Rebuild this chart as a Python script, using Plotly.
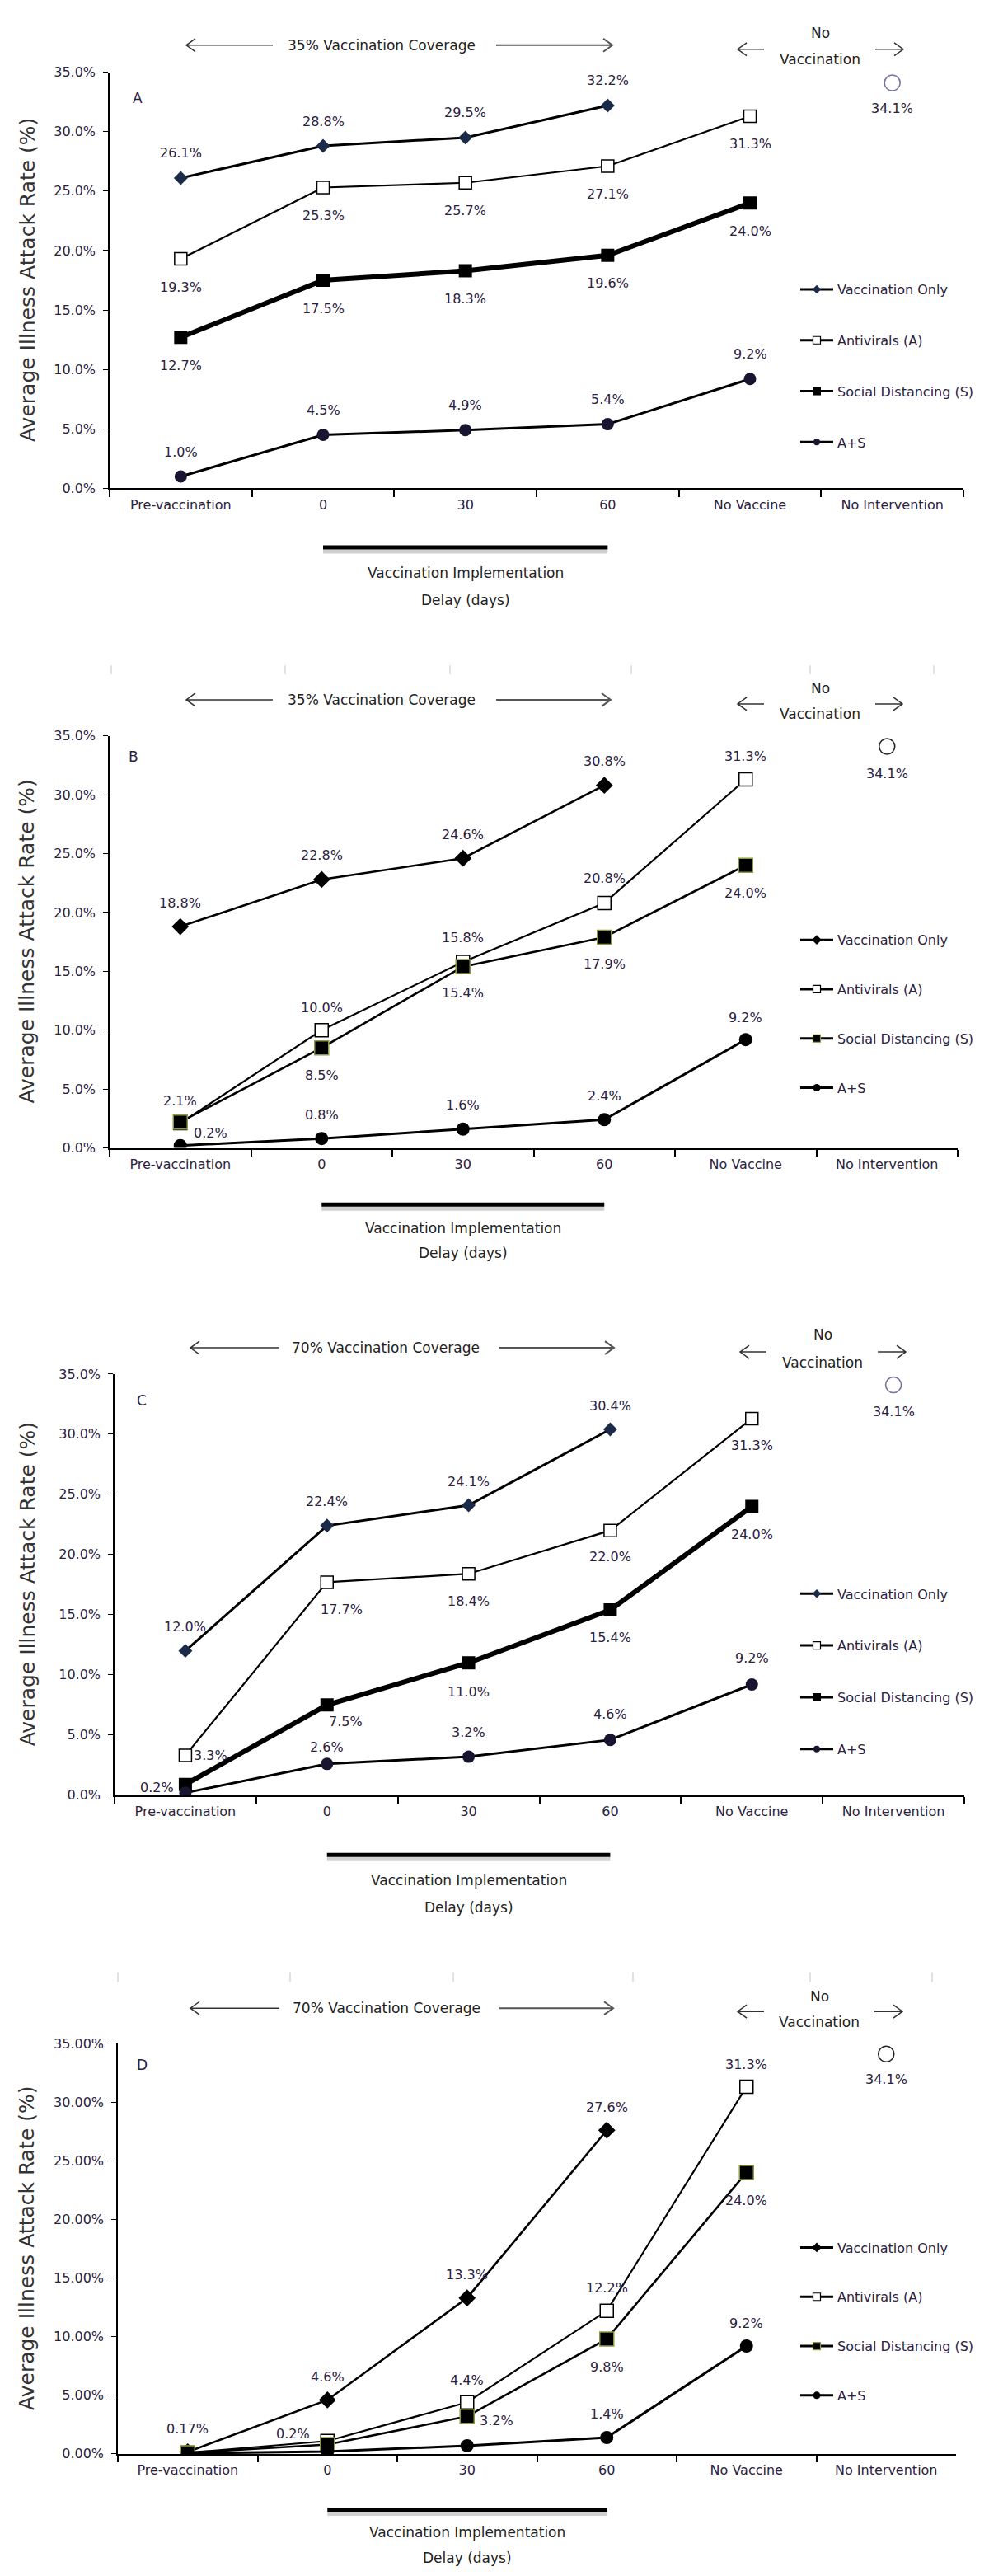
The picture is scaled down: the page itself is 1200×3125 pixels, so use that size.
import plotly.graph_objects as go

# ---------------- data ----------------
categories = ["Pre-vaccination", "0", "30", "60", "No Vaccine", "No Intervention"]
series_names = ["Vaccination Only", "Antivirals (A)", "Social Distancing (S)", "A+S"]

no_intervention = 34.1

A_vacc = [26.1, 28.8, 29.5, 32.2]
A_anti = [19.3, 25.3, 25.7, 27.1, 31.3]
A_sd = [12.7, 17.5, 18.3, 19.6, 24.0]
A_as = [1.0, 4.5, 4.9, 5.4, 9.2]

B_vacc = [18.8, 22.8, 24.6, 30.8]
B_anti = [2.1, 10.0, 15.8, 20.8, 31.3]
B_sd = [2.2, 8.5, 15.4, 17.9, 24.0]
B_as = [0.2, 0.8, 1.6, 2.4, 9.2]

C_vacc = [12.0, 22.4, 24.1, 30.4]
C_anti = [3.3, 17.7, 18.4, 22.0, 31.3]
C_sd = [0.9, 7.5, 11.0, 15.4, 24.0]
C_as = [0.2, 2.6, 3.2, 4.6, 9.2]

D_vacc = [0.17, 4.6, 13.3, 27.6]
D_anti = [0.1, 1.1, 4.4, 12.2, 31.3]
D_sd = [0.1, 0.8, 3.2, 9.8, 24.0]
D_as = [0.05, 0.2, 0.7, 1.4, 9.2]

coverage_text = ["35% Vaccination Coverage", "35% Vaccination Coverage",
                 "70% Vaccination Coverage", "70% Vaccination Coverage"]
panel_letters = ["A", "B", "C", "D"]

# ---------------- styles / layout ----------------
W, H = 1200, 3125
FONT = "DejaVu Sans, Verdana, sans-serif"
TXT = "#2b2140"


def X(px):
    return px / W


def Y(py):
    return 1 - py / H


# label placement (xshift, yshift) per point; None = hidden
LBL = {
    "A": {"vacc": [(0, 30)] * 4, "anti": [(0, -34)] * 5, "sd": [(0, -34)] * 5,
          "as": [(0, 30)] * 5, "noint": (0, -31)},
    "B": {"vacc": [(0, 29)] * 4, "anti": [(0, 27), (0, 27), (0, 29), (0, 30), (0, 28)],
          "sd": [None, (0, -33), (0, -32), (0, -33), (0, -34)],
          "as": [(37, 15), (0, 29), (0, 29), (0, 29), (0, 27)], "noint": (0, -33)},
    "C": {"vacc": [(0, 29)] * 4, "anti": [(31, 0), (18, -33), (0, -33), (0, -32), (0, -33)],
          "sd": [None, (23, -20), (0, -35), (0, -34), (0, -34)],
          "as": [(-34, 6), (0, 20), (0, 30), (0, 31), (0, 32)], "noint": (0, -32)},
    "D": {"vacc": [(0, 28)] * 4, "anti": [None, None, (0, 27), (0, 28), (0, 27)],
          "sd": [None, None, (36, -5), (0, -34), (0, -34)],
          "as": [None, (-42, 22), None, (0, 28), (0, 27)], "noint": (0, -31)},
}

# pixel geometry of each panel
GEO = {
    "A": dict(x0=125, x1=1161, ytop=71, ybot=579, fmt=".1f",
              cov_x=455, cov_y=38, la=(323, 218), ra=(594, 735),
              nv_x=987, no_y=23, vac_y=55, nv_ay=43, nl=(919, 887), nr=(1054, 1088),
              lx=159, ly=103, bar=72, vi=103, dl=136, leg_y=351, leg_gap=62),
    "B": dict(x0=125, x1=1154, ytop=881, ybot=1384, fmt=".1f",
              cov_x=455, cov_y=837, la=(323, 218), ra=(594, 733),
              nv_x=987, no_y=823, vac_y=854, nv_ay=842, nl=(919, 887), nr=(1054, 1087),
              lx=154, ly=907, bar=69, vi=98, dl=128, leg_y=1145, leg_gap=60,
              faint=(795, 806, [127, 338, 538, 758, 975, 1125])),
    "C": dict(x0=131, x1=1162, ytop=1660, ybot=2174, fmt=".1f",
              cov_x=460, cov_y=1628, la=(331, 223), ra=(598, 737),
              nv_x=990, no_y=1612, vac_y=1646, nv_ay=1633, nl=(922, 890), nr=(1057, 1091),
              lx=164, ly=1692, bar=73, vi=104, dl=137, leg_y=1943, leg_gap=63),
    "D": dict(x0=135, x1=1152, ytop=2477, ybot=2978, fmt=".2f",
              cov_x=461, cov_y=2434, la=(331, 223), ra=(598, 736),
              nv_x=986, no_y=2420, vac_y=2451, nv_ay=2438, nl=(919, 887), nr=(1053, 1087),
              lx=164, ly=2503, bar=68, vi=96, dl=127, leg_y=2741, leg_gap=60,
              faint=(2390, 2402, [135, 344, 542, 760, 975, 1123])),
}

STYLE_THICK = {  # panels A, C
    "vacc": dict(marker=dict(symbol="diamond", size=13, color="#1c2a4a"), line=dict(color="black", width=3)),
    "anti": dict(marker=dict(symbol="square", size=15, color="white", line=dict(color="black", width=1.5)),
                 line=dict(color="black", width=2.2)),
    "sd": dict(marker=dict(symbol="square", size=16, color="black"), line=dict(color="black", width=6)),
    "as": dict(marker=dict(symbol="circle", size=15, color="#171530"), line=dict(color="black", width=3)),
    "noint": "#7b6fa3",
}
STYLE_THIN = {  # panels B, D
    "vacc": dict(marker=dict(symbol="diamond", size=16, color="black"), line=dict(color="black", width=2.6)),
    "anti": dict(marker=dict(symbol="square", size=16, color="white", line=dict(color="black", width=1.5)),
                 line=dict(color="black", width=2.2)),
    "sd": dict(marker=dict(symbol="square", size=17, color="black", line=dict(color="#8a9a40", width=1.5)),
               line=dict(color="black", width=2.6)),
    "as": dict(marker=dict(symbol="circle", size=16, color="black"), line=dict(color="black", width=3)),
    "noint": "#222222",
}
LEG_MARK = {
    "A": {"vacc": dict(symbol="diamond", size=8, color="#1c2a4a"),
          "anti": dict(symbol="square", size=9, color="white", line=dict(color="black", width=1.2)),
          "sd": dict(symbol="square", size=10, color="black"),
          "as": dict(symbol="circle", size=8, color="#171530")},
    "B": {"vacc": dict(symbol="diamond", size=9, color="black"),
          "anti": dict(symbol="square", size=9, color="white", line=dict(color="black", width=1.2)),
          "sd": dict(symbol="square", size=9, color="black", line=dict(color="#8a9a40", width=1.2)),
          "as": dict(symbol="circle", size=9, color="black")},
}
LEG_MARK["C"] = LEG_MARK["A"]
LEG_MARK["D"] = LEG_MARK["B"]

panel_data = {
    "A": (A_vacc, A_anti, A_sd, A_as, STYLE_THICK),
    "B": (B_vacc, B_anti, B_sd, B_as, STYLE_THIN),
    "C": (C_vacc, C_anti, C_sd, C_as, STYLE_THICK),
    "D": (D_vacc, D_anti, D_sd, D_as, STYLE_THIN),
}


def fmt_pct(v):
    s = f"{v:.2f}"
    if s.endswith("0"):
        return f"{v:.1f}%"
    return s + "%"


def paper_text(xp, yp, text, size=17, color="#222222", angle=0):
    return dict(x=X(xp), y=Y(yp), xref="paper", yref="paper", text=text, showarrow=False,
                xanchor="center", yanchor="middle", textangle=angle,
                font=dict(family=FONT, size=size, color=color))


traces, annotations, shapes = [], [], []
layout = dict(width=W, height=H, margin=dict(l=0, r=0, t=0, b=0),
              paper_bgcolor="white", plot_bgcolor="white", showlegend=True,
              font=dict(family=FONT, color=TXT))

for i, key in enumerate(panel_letters):
    n = i + 1
    g = GEO[key]
    vacc, anti, sd, a_s, st = panel_data[key]
    xa, ya = f"x{n}", f"y{n}"
    leg = "legend" if n == 1 else f"legend{n}"

    layout[f"xaxis{n}"] = dict(
        domain=[X(g["x0"]), X(g["x1"])], anchor=ya, type="category",
        categoryorder="array", categoryarray=categories, range=[-0.5, 5.5],
        tickson="boundaries", ticks="outside", ticklen=8, tickwidth=1.5, tickcolor="black",
        showline=True, linecolor="black", linewidth=2.2, showgrid=False, zeroline=False,
        tickfont=dict(family=FONT, size=16, color=TXT), ticklabelstandoff=4, fixedrange=True)
    layout[f"yaxis{n}"] = dict(
        domain=[Y(g["ybot"]), Y(g["ytop"])], anchor=xa, range=[0, 35], dtick=5,
        tickformat=g["fmt"], ticksuffix="%", ticks="outside", ticklen=6, tickwidth=1.2,
        tickcolor="black", showline=True, linecolor="black", linewidth=1.5,
        showgrid=False, zeroline=False, ticklabelstandoff=6,
        tickfont=dict(family=FONT, size=16, color=TXT))

    series = [("vacc", vacc), ("anti", anti), ("sd", sd), ("as", a_s)]
    for (sk, vals), name in zip(series, series_names):
        s = st[sk]
        traces.append(go.Scatter(
            x=categories[:len(vals)], y=vals, mode="lines+markers", name=name,
            xaxis=xa, yaxis=ya, marker=s["marker"], line=s["line"],
            showlegend=False, hoverinfo="x+y+name"))
        # legend-only entry (no data drawn)
        traces.append(go.Scatter(
            x=[None], y=[None], mode="lines+markers", name=name, xaxis=xa, yaxis=ya,
            legend=leg, legendgroup=f"{key}{sk}", showlegend=True,
            marker=LEG_MARK[key][sk], line=dict(color="black", width=3)))
        for j, v in enumerate(vals):
            pos = LBL[key][sk][j]
            if pos is None:
                continue
            annotations.append(dict(
                x=j, y=v, xref=xa, yref=ya, text=fmt_pct(v), showarrow=False,
                xanchor="center", yanchor="middle",
                xshift=pos[0], yshift=pos[1], font=dict(family=FONT, size=16, color=TXT)))

    # no intervention point
    traces.append(go.Scatter(
        x=[categories[5]], y=[no_intervention], mode="markers", name="No Intervention",
        xaxis=xa, yaxis=ya, showlegend=False,
        marker=dict(symbol="circle-open", size=19, color=st["noint"], line=dict(width=1.6))))
    p = LBL[key]["noint"]
    annotations.append(dict(x=5, y=no_intervention, xref=xa, yref=ya,
                            text=fmt_pct(no_intervention), showarrow=False,
                            xanchor="center", yanchor="middle",
                            xshift=p[0], yshift=p[1], font=dict(family=FONT, size=16, color=TXT)))

    # legend
    layout[leg] = dict(x=X(958), y=Y(g["leg_y"] - 32), xanchor="left", yanchor="top",
                       bgcolor="rgba(0,0,0,0)", font=dict(family=FONT, size=16, color=TXT),
                       itemwidth=40, tracegroupgap=g["leg_gap"] - 24, traceorder="grouped")

    # panel letter, axis title, top texts
    annotations.append(paper_text(g["lx"], g["ly"], key, size=17, color=TXT))
    annotations.append(paper_text(25, (g["ytop"] + g["ybot"]) / 2, "Average Illness Attack Rate (%)",
                                  size=25, color="#333333", angle=-90))
    annotations.append(paper_text(g["cov_x"], g["cov_y"], coverage_text[i]))
    annotations.append(paper_text(g["nv_x"], g["no_y"], "No"))
    annotations.append(paper_text(g["nv_x"], g["vac_y"], "Vaccination"))

    def arrow(tail, tip, yy, color="#333333", width=1.5):
        d = 1 if tip > tail else -1
        path = (f"M {X(tail)},{Y(yy)} L {X(tip)},{Y(yy)} "
                f"M {X(tip - d * 11)},{Y(yy - 8)} L {X(tip)},{Y(yy)} L {X(tip - d * 11)},{Y(yy + 8)}")
        return dict(type="path", xref="paper", yref="paper", path=path,
                    line=dict(color=color, width=width))

    shapes.append(arrow(g["la"][0], g["la"][1], g["cov_y"]))
    shapes.append(arrow(g["ra"][0], g["ra"][1], g["cov_y"], color="#555555", width=2))
    shapes.append(arrow(g["nl"][0], g["nl"][1], g["nv_ay"]))
    shapes.append(arrow(g["nr"][0], g["nr"][1], g["nv_ay"]))

    # implementation-delay bar below the axis
    shapes.append(dict(type="line", xref=xa, yref="paper", x0=1, x1=3,
                       y0=Y(g["ybot"] + g["bar"] + 5), y1=Y(g["ybot"] + g["bar"] + 5),
                       line=dict(color="#d0d0d0", width=5)))
    shapes.append(dict(type="line", xref=xa, yref="paper", x0=1, x1=3,
                       y0=Y(g["ybot"] + g["bar"]), y1=Y(g["ybot"] + g["bar"]),
                       line=dict(color="black", width=5)))
    annotations.append(dict(x=2, y=Y(g["ybot"] + g["vi"]), xref=xa, yref="paper",
                            text="Vaccination Implementation", showarrow=False,
                            xanchor="center", yanchor="middle",
                            font=dict(family=FONT, size=17, color="#222222")))
    annotations.append(dict(x=2, y=Y(g["ybot"] + g["dl"]), xref=xa, yref="paper",
                            text="Delay (days)", showarrow=False,
                            xanchor="center", yanchor="middle",
                            font=dict(family=FONT, size=17, color="#222222")))

    # faint leftover tick marks at top of some panels
    if "faint" in g:
        fy0, fy1, fxs = g["faint"]
        for fx in fxs:
            shapes.append(dict(type="line", xref="paper", yref="paper", x0=X(fx), x1=X(fx),
                               y0=Y(fy0), y1=Y(fy1), line=dict(color="#d8d8d8", width=1.5)))

layout["annotations"] = annotations
layout["shapes"] = shapes

fig = go.Figure(data=traces, layout=layout)
fig.write_html("out.html")
